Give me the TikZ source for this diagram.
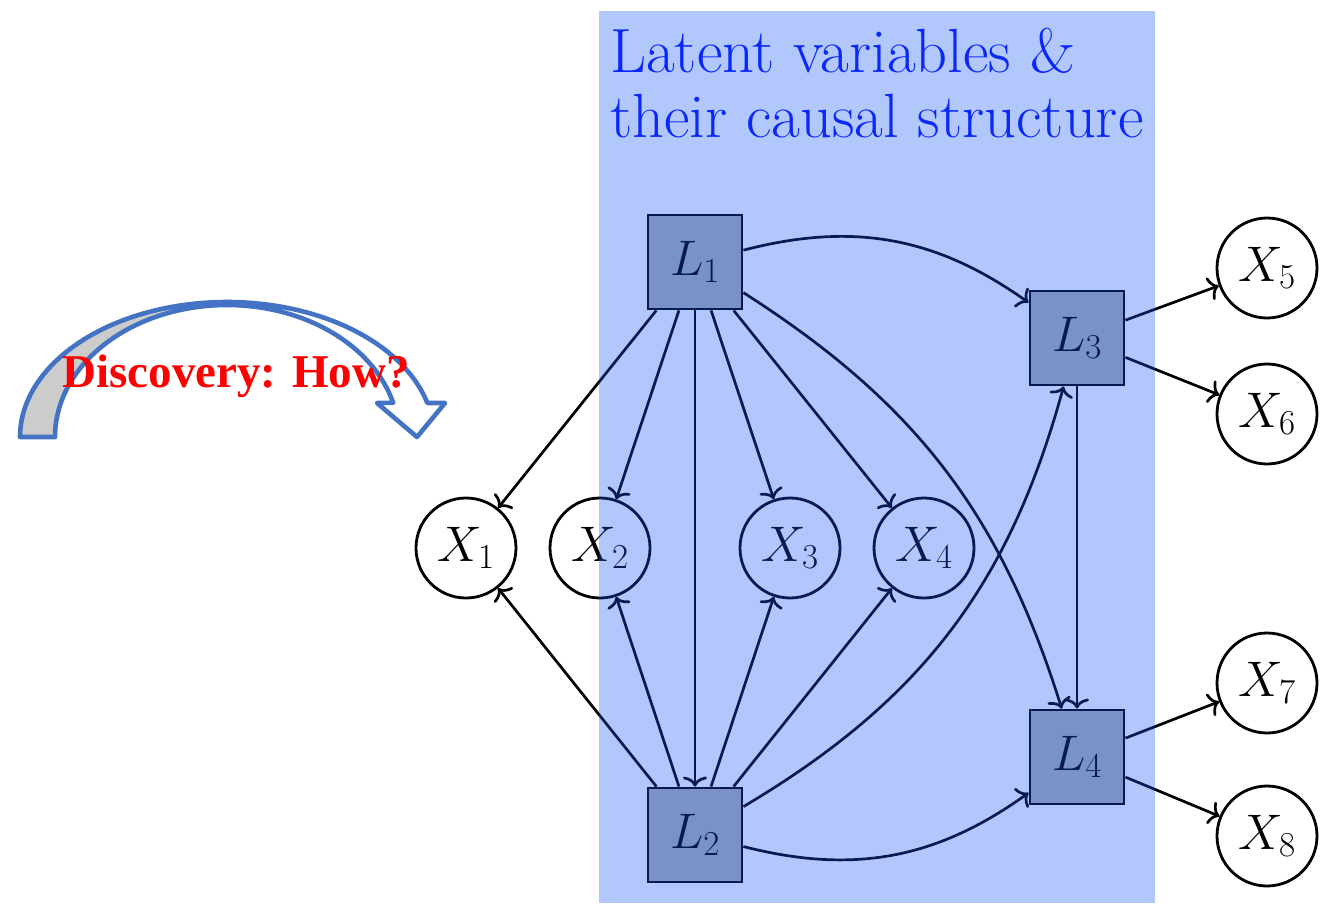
\RequirePackage{fix-cm}
\documentclass[tikz,border=0pt]{standalone}
\usepackage{fontspec}
\newfontfamily\timesfont{Liberation Serif}
\usetikzlibrary{arrows.meta}
\definecolor{panelblue}{RGB}{20,85,245}
\definecolor{titleblue}{RGB}{10,40,250}
\definecolor{shapeblue}{RGB}{68,114,196}
\definecolor{latentgray}{RGB}{175,176,178}
\definecolor{discred}{RGB}{255,0,0}
\tikzset{
  obs/.style={circle, draw=black, line width=2.8pt, minimum size=100pt, inner sep=0pt,
    font=\fontsize{50}{60}\selectfont},
  latent/.style={rectangle, draw=black, fill=latentgray, line width=2.9pt, minimum size=94pt,
    inner sep=0pt, font=\fontsize{50}{60}\selectfont},
  edge/.style={line width=2.7pt, draw=black, -{To[length=10pt,width=24pt]}},
  titletext/.style={text=titleblue, inner sep=0pt, anchor=base west,
    font=\fontsize{62.5}{70}\selectfont},
  curvearrow/.style={draw=shapeblue, line width=4.6pt, line join=round},
}
\begin{document}
\begin{tikzpicture}[x=1pt, y=-1pt]
\useasboundingbox (0,0) rectangle (1330,905);

% curved "discovery" arrow: shaded back side, then the open front band
\filldraw[curvearrow, fill=black!20]
  plot[domain=180:270, samples=60] ({227+207*cos(\x)},{437+135*sin(\x)})
  -- plot[domain=270:180, samples=60] ({227+172*cos(\x)},{437+132*sin(\x)}) -- cycle;
\filldraw[curvearrow, fill=white]
  plot[domain=270:345.4, samples=60] ({227+207*cos(\x)},{437+135*sin(\x)})
  -- (445,403) -- (417,437) -- (377,403)
  -- plot[domain=345:270, samples=60] ({227+172*cos(\x)},{437+132*sin(\x)}) -- cycle;
\node[text=discred, font=\timesfont\bfseries\fontsize{47}{56}\selectfont, inner sep=0pt,
  anchor=base] (disc) at (236,387) {Discovery: How?};

% latent variables
\node[latent] (L1) at (695,262) {$L_1$};
\node[latent] (L2) at (695,835) {$L_2$};
\node[latent] (L3) at (1077,338) {$L_3$};
\node[latent] (L4) at (1077,757) {$L_4$};

% observed variables
\node[obs] (X1) at (466,548) {$X_1$};
\node[obs] (X2) at (600,548) {$X_2$};
\node[obs] (X3) at (790,548) {$X_3$};
\node[obs] (X4) at (924,548) {$X_4$};
\node[obs] (X5) at (1267,268) {$X_5$};
\node[obs] (X6) at (1267,414) {$X_6$};
\node[obs] (X7) at (1267,683) {$X_7$};
\node[obs] (X8) at (1267,836) {$X_8$};

% edges out of L1
\draw[edge] (L1) -- (X1);
\draw[edge] (L1) -- (X2);
\draw[edge] (L1) -- (L2);
\draw[edge] (L1) -- (X3);
\draw[edge] (L1) -- (X4);
\draw[edge] (L1) to[bend left=25] (L3);
\draw[edge] (L1) to[bend left=20] (L4);

% edges out of L2
\draw[edge] (L2) -- (X1);
\draw[edge] (L2) -- (X2);
\draw[edge] (L2) -- (X3);
\draw[edge] (L2) -- (X4);
\draw[edge] (L2) to[bend right=22] (L3);
\draw[edge] (L2) to[bend right=25] (L4);

% edges out of L3 and L4
\draw[edge] (L3) -- (L4);
\draw[edge] (L3) -- (X5);
\draw[edge] (L3) -- (X6);
\draw[edge] (L4) -- (X7);
\draw[edge] (L4) -- (X8);

% translucent panel over the latent part
\fill[panelblue, fill opacity=0.33] (599,11) rectangle (1155,903);
\node[titletext] (title1) at (610,72) {Latent variables \&};
\node[titletext] (title2) at (610,137) {their causal structure};
\end{tikzpicture}
\end{document}
